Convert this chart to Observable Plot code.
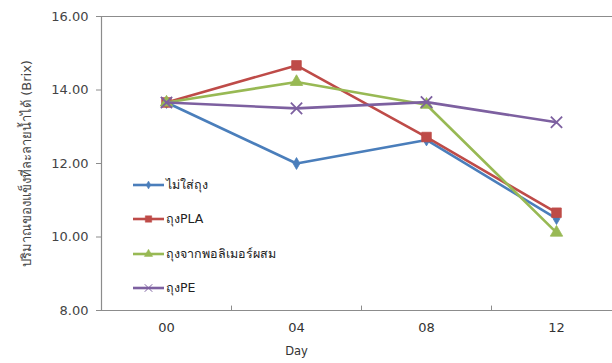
<!DOCTYPE html>
<html><head><meta charset="utf-8">
<script src="https://cdn.jsdelivr.net/npm/d3@7"></script>
<script src="https://cdn.jsdelivr.net/npm/@observablehq/plot@0.6"></script>
<style>
body{margin:0;background:#fff;}
#c{position:relative;width:612px;height:363px;overflow:hidden;font-family:Tahoma,"DejaVu Sans",sans-serif;}
#legend{position:absolute;left:133px;top:168px;}
.row{height:34.3px;display:flex;align-items:center;font-size:12.5px;color:#222;}
.row svg{margin-right:2px;}
</style>
</head><body><div id="c"></div>
<script>
const days = [0, 4, 8, 12];
const dayLabels = ["00", "04", "08", "12"];
const seriesNames = ["ไม่ใส่ถุง", "ถุงPLA", "ถุงจากพอลิเมอร์ผสม", "ถุงPE"];
const noBag = [13.66, 12.0, 12.64, 10.50];
const pla = [13.66, 14.67, 12.72, 10.66];
const blend = [13.66, 14.22, 13.60, 10.12];
const pe = [13.66, 13.50, 13.67, 13.12];
const yTicks = [8, 10, 12, 14, 16];
const colors = ["#4A7EBB", "#BE4B48", "#98B954", "#7D60A0"];
const symbols = ["diamond", "square", "triangle", "times"];
const sizes = [3.6, 5.4, 4.6, 5.2];

const allSeries = [noBag, pla, blend, pe];
const rows = [];
allSeries.forEach((vals, s) => vals.forEach((v, i) => rows.push({series: seriesNames[s], s, day: days[i], value: v})));

const marks = [
  Plot.ruleY([16], {stroke: "#8c8c8c", strokeWidth: 1.2}),
  Plot.ruleY([8], {stroke: "#8c8c8c", strokeWidth: 1.2}),
  Plot.ruleX([-2], {stroke: "#8c8c8c", strokeWidth: 1.2}),
  Plot.ruleX([2, 6, 10], {y1: 8, y2: 8.12, stroke: "#8c8c8c"}),
  Plot.axisY({ticks: yTicks, tickFormat: d => d.toFixed(2), tickSize: 5, tickPadding: 8, fontSize: 13, stroke: "#8c8c8c", fill: "#444",
    label: "ปริมาณของแข็งที่ละลายน้ำได้ (Brix)", labelAnchor: "center", labelArrow: "none", labelOffset: 80}),
  Plot.axisX({ticks: days, tickFormat: (d) => dayLabels[days.indexOf(d)], tickSize: 0, tickPadding: 12, fontSize: 13, label: null}),
  Plot.text(["Day"], {x: 4, frameAnchor: "bottom", dy: 44, fontSize: 11.5})
];
allSeries.forEach((vals, s) => {
  const data = rows.filter(r => r.s === s);
  marks.push(Plot.line(data, {x: "day", y: "value", stroke: colors[s], strokeWidth: 2.6}));
  marks.push(Plot.dot(data, {x: "day", y: "value", symbol: () => symbols[s], r: sizes[s],
    fill: s === 3 ? "none" : colors[s], stroke: colors[s], strokeWidth: s === 3 ? 1.8 : 0.8}));
});

const chart = Plot.plot({
  width: 612, height: 363,
  marginLeft: 101, marginTop: 16, marginBottom: 53, marginRight: 0,
  style: {fontFamily: "Tahoma, 'DejaVu Sans', sans-serif", fontSize: "13.5px", color: "#333", background: "#fff"},
  x: {type: "linear", domain: [-2, 14], range: [101, 621]},
  y: {domain: [8, 16], range: [310, 16]},
  symbol: {type: "identity"},
  marks
});
const c = document.getElementById("c");
c.appendChild(chart);

const legend = document.createElement("div");
legend.id = "legend";
seriesNames.forEach((name, s) => {
  const row = document.createElement("div");
  row.className = "row";
  const sym = d3.symbol().type({diamond: d3.symbolDiamond, square: d3.symbolSquare, triangle: d3.symbolTriangle, times: d3.symbolTimes}[symbols[s]]).size(Math.PI * sizes[s] * sizes[s] * 0.45)();
  row.innerHTML = `<svg width="31" height="14"><line x1="0" x2="31" y1="7" y2="7" stroke="${colors[s]}" stroke-width="2.6"/><path transform="translate(15.5,7)" d="${sym}" fill="${s === 3 ? "none" : colors[s]}" stroke="${colors[s]}" stroke-width="${s === 3 ? 1 : 0.5}"/></svg><span>${name}</span>`;
  legend.appendChild(row);
});
c.appendChild(legend);
</script>
</body></html>
